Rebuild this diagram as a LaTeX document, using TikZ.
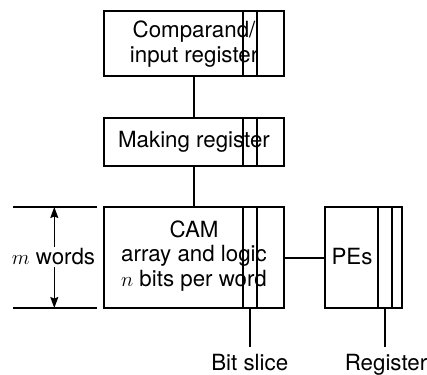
\documentclass[tikz,border=0pt]{standalone}
\usepackage{fontspec}
\setmainfont{TeX Gyre Heros}
\usetikzlibrary{arrows.meta}
\begin{document}
\begin{tikzpicture}[x=1pt,y=-1pt,
  every node/.style={font=\fontsize{22.3}{24.5}\selectfont},
  box/.style={draw,line width=2pt,inner sep=0pt,align=center},
  slicebox/.style={draw,line width=2pt,inner sep=0pt,minimum width=13.5pt},
  conn/.style={line width=2pt},
  dimline/.style={line width=1.1pt},
  dimarrow/.style={line width=1.1pt,-{Stealth[length=11pt,width=8pt,inset=1.5pt]}},
  lbl/.style={inner sep=0pt}]
\useasboundingbox (0,0) rectangle (427,374);
% boxes
\node[box,minimum width=180pt,minimum height=65pt] (b1) at (194,43.5) {};
\node[box,minimum width=180pt,minimum height=48pt] (b2) at (194,142) {};
\node[box,minimum width=180pt,minimum height=101pt] (b3) at (194,257.5) {};
\node[box,minimum width=77pt,minimum height=101pt] (pe) at (363.5,257.5) {};
% slices
\node[slicebox,minimum height=65pt] (s1) at (249.75,43.5) {};
\node[slicebox,minimum height=48pt] (s2) at (249.75,142) {};
\node[slicebox,minimum height=101pt] (s3) at (249.75,257.5) {};
\node[slicebox,minimum width=14pt,minimum height=101pt] (rg) at (385,257.5) {};
% texts
\node[lbl,align=center] (t1) at (194,44) {Comparand/\\input register};
\node[lbl] (t2) at (194,142) {Making register};
\node[lbl,align=center] (t3) at (194,256) {CAM\\array and logic\\$n$ bits per word};
\node[lbl] (t4) at (352,257) {PEs};
% connectors
\draw[conn] (b1.south) -- (b2.north);
\draw[conn] (b2.south) -- (b3.north);
\draw[conn] (b3.east) -- (pe.west);
\node[lbl,anchor=north] (bs) at (249.75,354) {Bit slice};
\node[lbl,anchor=north] (rl) at (386,354) {Register};
\draw[conn,shorten >=7pt] (s3.south) -- (bs.north -| s3.south);
\draw[conn,shorten >=7pt] (rg.south) -- (rl.north -| rg.south);
% dimension
\coordinate (dt) at (54.3,207);
\coordinate (db) at (54.3,308);
\draw[dimline] (13,207) coordinate (dtl) -- (97,207) coordinate (dtr);
\draw[dimline] (13,308) coordinate (dbl) -- (97,308) coordinate (dbr);
\node[lbl] (mw) at (53.5,257) {$m$ words};
\draw[dimarrow] (54.3,247) -- (dt);
\draw[dimarrow] (54.3,267) -- (db);
\end{tikzpicture}
\end{document}
